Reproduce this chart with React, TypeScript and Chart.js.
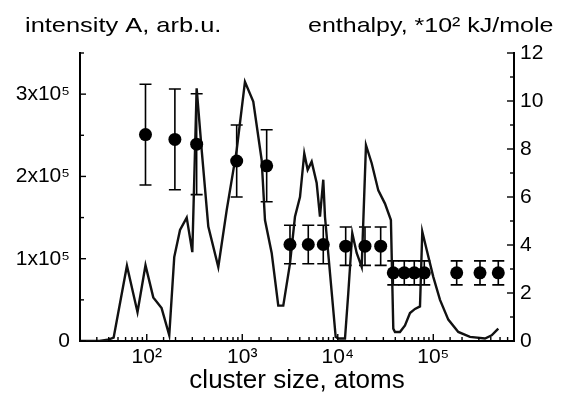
import React, { useEffect, useRef } from 'react';
import { Chart, registerables } from 'chart.js';

Chart.register(...registerables);

// Intensity A (left axis), cluster size in atoms
const intensitySize = [
  20, 32, 39, 45, 62, 80, 97, 117, 143, 172, 194, 223, 262, 300, 333, 376, 441, 561, 687, 874,
  1067, 1304, 1596, 1729, 2032, 2382, 2688, 3159, 3563, 4021, 4459, 4839, 5330, 6012, 6510, 7050,
  7345, 9506, 10120, 11900, 12880, 14180, 15770, 17800, 19740, 22650, 26560, 31200, 36000, 38130,
  39720, 44800, 50550, 57020, 64330, 72570, 76710, 85270, 100000, 117600, 143600, 182700, 242300,
  347800, 408800, 479300,
];
const intensityValue = [
  0, 0, 1500, 4000, 91500, 35000, 92000, 53000, 40000, 7000, 102000, 135000, 150000, 108000, 307000,
  232000, 139000, 90000, 159000, 232000, 315000, 291000, 220000, 147000, 107000, 43000, 43000, 94000,
  151000, 175000, 228000, 208000, 218000, 192000, 151000, 196000, 151000, 5000, 3000, 3000, 58000,
  131000, 107000, 90000, 238000, 216000, 183000, 167000, 147000, 15000, 11000, 11000, 19000, 34000,
  39000, 42000, 133000, 111000, 78000, 50000, 26000, 11000, 5000, 3000, 7000, 15000,
];

// Enthalpy (right axis), *10^2 kJ/mole
const enthalpySize = [
  97, 197, 333, 874, 1801, 3159, 4910, 7050, 12100, 19270, 28130, 38130, 49700, 63240, 80500,
  175800, 308300, 479300,
];
const enthalpyValue = [
  8.6, 8.4, 8.2, 7.5, 7.3, 4.02, 4.02, 4.02, 3.95, 3.95, 3.95, 2.84, 2.84, 2.84, 2.84, 2.84, 2.84, 2.84,
];
const enthalpyError = [
  2.1, 2.1, 2.1, 1.5, 1.5, 0.8, 0.8, 0.8, 0.8, 0.8, 0.8, 0.5, 0.5, 0.5, 0.5, 0.5, 0.5, 0.5,
];

// Tick labels
const xTickValues = [100, 1000, 10000, 100000];
const xTickLabels = ['10²', '10³', '10⁴', '10⁵'];
const leftTickValues = [0, 100000, 200000, 300000];
const leftTickLabels = ['0', '1x10⁵', '2x10⁵', '3x10⁵'];
const rightTickValues = [0, 2, 4, 6, 8, 10, 12];
const rightTickLabels = ['0', '2', '4', '6', '8', '10', '12'];

const leftTitle = 'intensity A, arb.u.';
const rightTitle = 'enthalpy, *10² kJ/mole';
const xTitle = 'cluster size, atoms';

const FONT = "'Liberation Sans', Arial, Helvetica, sans-serif";

function findLabel(values: number[], labels: string[], v: number): string {
  for (let i = 0; i < values.length; i++) {
    const t = values[i];
    if (t === 0 ? Math.abs(v) < 1e-9 : Math.abs(v - t) / Math.abs(t) < 1e-6) return labels[i];
  }
  return '';
}

const errorBarsPlugin = {
  id: 'errorBars',
  beforeDatasetsDraw(chart: any) {
    const ctx = chart.ctx;
    const xs = chart.scales.x;
    const ys = chart.scales.yR;
    ctx.save();
    ctx.strokeStyle = '#000';
    ctx.lineWidth = 1.6;
    for (let i = 0; i < enthalpySize.length; i++) {
      const px = xs.getPixelForValue(enthalpySize[i]);
      const yTop = ys.getPixelForValue(enthalpyValue[i] + enthalpyError[i]);
      const yBot = ys.getPixelForValue(enthalpyValue[i] - enthalpyError[i]);
      const cap = 6;
      ctx.beginPath();
      ctx.moveTo(px, yTop);
      ctx.lineTo(px, yBot);
      ctx.moveTo(px - cap, yTop);
      ctx.lineTo(px + cap, yTop);
      ctx.moveTo(px - cap, yBot);
      ctx.lineTo(px + cap, yBot);
      ctx.stroke();
    }
    ctx.restore();
  },
};

const axisTicksPlugin = {
  id: 'axisTicks',
  afterDraw(chart: any) {
    const ctx = chart.ctx;
    const { left, right, bottom } = chart.chartArea;
    ctx.save();
    ctx.strokeStyle = '#000';
    ctx.lineWidth = 1.4;
    const xs = chart.scales.x;
    xs.ticks.forEach((t: any) => {
      const px = xs.getPixelForValue(t.value);
      const major = findLabel(xTickValues, xTickLabels, t.value) !== '';
      const len = major ? 7 : 4;
      ctx.beginPath();
      ctx.moveTo(px, bottom);
      ctx.lineTo(px, bottom - len);
      ctx.stroke();
    });
    const yl = chart.scales.yL;
    yl.ticks.forEach((t: any) => {
      const py = yl.getPixelForValue(t.value);
      const major = findLabel(leftTickValues, leftTickLabels, t.value) !== '';
      const len = major ? 6 : 4;
      ctx.beginPath();
      ctx.moveTo(left, py);
      ctx.lineTo(left + len, py);
      ctx.stroke();
    });
    const yr = chart.scales.yR;
    yr.ticks.forEach((t: any) => {
      const py = yr.getPixelForValue(t.value);
      const major = findLabel(rightTickValues, rightTickLabels, t.value) !== '';
      const len = major ? 7 : 4;
      ctx.beginPath();
      ctx.moveTo(right, py);
      ctx.lineTo(right - len, py);
      ctx.stroke();
    });
    ctx.restore();
  },
};

const topTitlesPlugin = {
  id: 'topTitles',
  afterDraw(chart: any) {
    const ctx = chart.ctx;
    ctx.save();
    ctx.fillStyle = '#000';
    ctx.font = `21px ${FONT}`;
    ctx.textBaseline = 'alphabetic';
    ctx.textAlign = 'left';
    ctx.translate(25, 32);
    ctx.scale(1.21, 1);
    ctx.fillText(leftTitle, 0, 0);
    ctx.restore();
    ctx.save();
    ctx.fillStyle = '#000';
    ctx.font = `21px ${FONT}`;
    ctx.textBaseline = 'alphabetic';
    ctx.textAlign = 'left';
    ctx.translate(308, 32);
    ctx.scale(1.19, 1);
    ctx.fillText(rightTitle, 0, 0);
    ctx.restore();
  },
};

export default function App() {
  const canvasRef = useRef<HTMLCanvasElement | null>(null);

  useEffect(() => {
    if (!canvasRef.current) return;
    Chart.defaults.font.family = FONT;
    Chart.defaults.color = '#000';

    const chart = new Chart(canvasRef.current, {
      type: 'scatter',
      data: {
        datasets: [
          {
            label: 'intensity A',
            data: intensitySize.map((s, i) => ({ x: s, y: intensityValue[i] })),
            yAxisID: 'yL',
            showLine: true,
            borderColor: '#111',
            borderWidth: 2.4,
            pointRadius: 0,
            tension: 0,
            order: 2,
          },
          {
            label: 'enthalpy',
            data: enthalpySize.map((s, i) => ({ x: s, y: enthalpyValue[i] })),
            yAxisID: 'yR',
            showLine: false,
            pointRadius: 6.5,
            pointBackgroundColor: '#000',
            pointBorderColor: '#000',
            pointBorderWidth: 0,
            order: 1,
          },
        ],
      },
      options: {
        animation: false,
        responsive: false,
        maintainAspectRatio: false,
        layout: { padding: { top: 53, left: 0, right: 0, bottom: 0 } },
        plugins: {
          legend: { display: false },
          tooltip: { enabled: false },
          title: { display: false },
        },
        scales: {
          x: {
            type: 'logarithmic',
            position: 'bottom',
            min: 20,
            max: 700000,
            grid: { display: false, drawTicks: false },
            border: { display: true, color: '#000', width: 2 },
            ticks: {
              autoSkip: false,
              maxRotation: 0,
              padding: 4,
              font: { size: 21 },
              color: '#000',
              callback: (v: any) => findLabel(xTickValues, xTickLabels, Number(v)),
            },
            title: {
              display: true,
              text: xTitle,
              font: { size: 26 },
              color: '#000',
              padding: { top: 0, bottom: 0 },
            },
            afterFit: (s: any) => {
              s.height = 55;
            },
          },
          yL: {
            type: 'linear',
            position: 'left',
            min: 0,
            max: 350000,
            grid: { display: false, drawTicks: false },
            border: { display: true, color: '#000', width: 2 },
            ticks: {
              stepSize: 50000,
              autoSkip: false,
              padding: 10,
              font: { size: 21 },
              color: '#000',
              callback: (v: any) => findLabel(leftTickValues, leftTickLabels, Number(v)),
            },
            afterFit: (s: any) => {
              s.width = 80;
            },
          },
          yR: {
            type: 'linear',
            position: 'right',
            min: 0,
            max: 12,
            grid: { display: false, drawTicks: false },
            border: { display: true, color: '#000', width: 2 },
            ticks: {
              stepSize: 1,
              autoSkip: false,
              padding: 6,
              font: { size: 21 },
              color: '#000',
              callback: (v: any) => findLabel(rightTickValues, rightTickLabels, Number(v)),
            },
            afterFit: (s: any) => {
              s.width = 52;
            },
          },
        },
      },
      plugins: [errorBarsPlugin, axisTicksPlugin, topTitlesPlugin],
    } as any);

    return () => {
      chart.destroy();
    };
  }, []);

  return (
    <div style={{ position: 'absolute', left: 0, top: 0, width: 566, height: 396, background: '#fff' }}>
      <canvas ref={canvasRef} width={566} height={396} style={{ display: 'block' }} />
    </div>
  );
}
